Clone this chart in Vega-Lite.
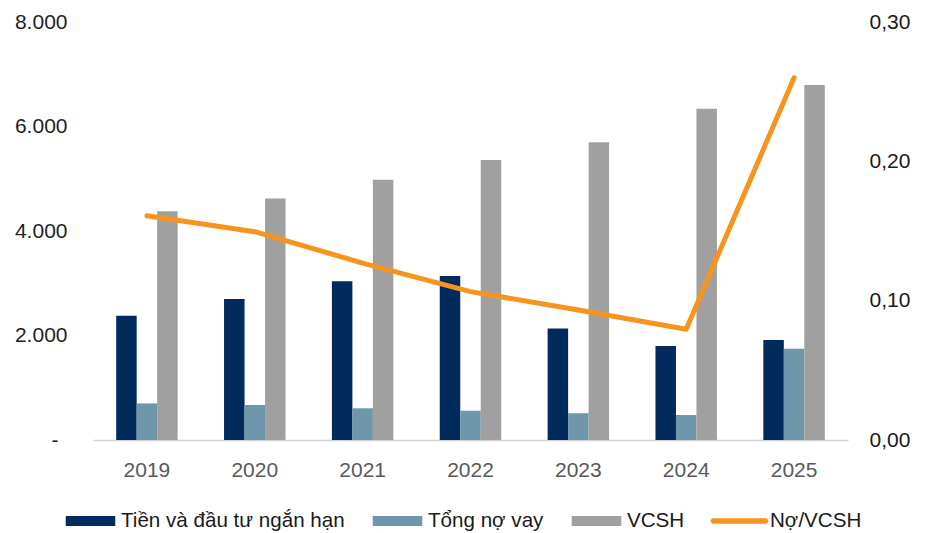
{
  "$schema": "https://vega.github.io/schema/vega-lite/v6.json",
  "width": 755,
  "height": 418,
  "autosize": {"type": "none"},
  "padding": {"left": 93, "top": 22, "right": 80, "bottom": 93},
  "background": "white",
  "config": {
    "view": {"stroke": null},
    "locale": {
      "number": {"decimal": ",", "thousands": ".", "grouping": [3], "currency": ["", ""]}
    },
    "axis": {
      "grid": false,
      "ticks": false,
      "tickSize": 0,
      "domain": false,
      "labelFont": "Liberation Sans",
      "labelFontSize": 21,
      "title": null
    },
    "legend": {
      "labelFont": "Liberation Sans",
      "labelFontSize": 20.6,
      "labelColor": "#1a1a1a"
    }
  },
  "datasets": {
    "bars": [
      {"year": "2019", "series": "Tiền và đầu tư ngắn hạn", "value": 2380},
      {"year": "2019", "series": "Tổng nợ vay", "value": 700},
      {"year": "2019", "series": "VCSH", "value": 4380},
      {"year": "2020", "series": "Tiền và đầu tư ngắn hạn", "value": 2700},
      {"year": "2020", "series": "Tổng nợ vay", "value": 670},
      {"year": "2020", "series": "VCSH", "value": 4620},
      {"year": "2021", "series": "Tiền và đầu tư ngắn hạn", "value": 3040},
      {"year": "2021", "series": "Tổng nợ vay", "value": 607},
      {"year": "2021", "series": "VCSH", "value": 4980},
      {"year": "2022", "series": "Tiền và đầu tư ngắn hạn", "value": 3140},
      {"year": "2022", "series": "Tổng nợ vay", "value": 560},
      {"year": "2022", "series": "VCSH", "value": 5360},
      {"year": "2023", "series": "Tiền và đầu tư ngắn hạn", "value": 2135},
      {"year": "2023", "series": "Tổng nợ vay", "value": 512},
      {"year": "2023", "series": "VCSH", "value": 5700},
      {"year": "2024", "series": "Tiền và đầu tư ngắn hạn", "value": 1800},
      {"year": "2024", "series": "Tổng nợ vay", "value": 478},
      {"year": "2024", "series": "VCSH", "value": 6340},
      {"year": "2025", "series": "Tiền và đầu tư ngắn hạn", "value": 1915},
      {"year": "2025", "series": "Tổng nợ vay", "value": 1748},
      {"year": "2025", "series": "VCSH", "value": 6795}
    ],
    "ratio": [
      {"year": "2019", "series": "Nợ/VCSH", "ratio": 0.161},
      {"year": "2020", "series": "Nợ/VCSH", "ratio": 0.1495},
      {"year": "2021", "series": "Nợ/VCSH", "ratio": 0.127},
      {"year": "2022", "series": "Nợ/VCSH", "ratio": 0.1065},
      {"year": "2023", "series": "Nợ/VCSH", "ratio": 0.0933},
      {"year": "2024", "series": "Nợ/VCSH", "ratio": 0.0795},
      {"year": "2025", "series": "Nợ/VCSH", "ratio": 0.26}
    ]
  },
  "encoding": {
    "x": {
      "field": "year",
      "type": "nominal",
      "scale": {"paddingInner": 0.43, "paddingOuter": 0.215},
      "axis": {
        "labelAngle": 0,
        "labelColor": "#595959",
        "labelPadding": 19,
        "domain": true,
        "domainColor": "#d4d4d4",
        "domainWidth": 1.5
      }
    }
  },
  "layer": [
    {
      "data": {"name": "bars"},
      "mark": {"type": "bar"},
      "encoding": {
        "xOffset": {
          "field": "series",
          "type": "nominal",
          "scale": {
            "domain": ["Tiền và đầu tư ngắn hạn", "Tổng nợ vay", "VCSH"],
            "paddingInner": 0,
            "paddingOuter": 0
          }
        },
        "y": {
          "field": "value",
          "type": "quantitative",
          "scale": {"domain": [0, 8000], "nice": false},
          "axis": {
            "orient": "left",
            "values": [0, 2000, 4000, 6000, 8000],
            "labelColor": "#1f1f1f",
            "labelPadding": {"condition": {"test": "datum.value === 0", "value": 35}, "value": 26},
            "labelExpr": "datum.value === 0 ? '-' : format(datum.value, ',d')"
          }
        },
        "color": {
          "field": "series",
          "type": "nominal",
          "scale": {
            "domain": ["Tiền và đầu tư ngắn hạn", "Tổng nợ vay", "VCSH", "Nợ/VCSH"],
            "range": ["#002b5c", "#6e97ac", "#a0a0a0", "#f7941d"]
          },
          "legend": {
            "title": null,
            "orient": "none",
            "direction": "horizontal",
            "columns": 4,
            "legendX": -30,
            "legendY": 471,
            "padding": 0,
            "symbolSize": 3025,
            "labelOffset": 3,
            "columnPadding": 25,
            "labelLimit": 400,
            "symbolStrokeWidth": 0,
            "encode": {
              "symbols": {
                "update": {
                  "shape": {
                    "signal": "datum.index === 3 ? 'M-0.95,-0.1H0.95A0.1,0.1 0 0 1 0.95,0.1H-0.95A0.1,0.1 0 0 1 -0.95,-0.1Z' : 'M-0.9,-0.18H0.9V0.18H-0.9Z'"
                  }
                }
              }
            }
          }
        }
      }
    },
    {
      "data": {"name": "ratio"},
      "mark": {
        "type": "line",
        "interpolate": "linear",
        "strokeWidth": 5,
        "strokeCap": "round",
        "strokeJoin": "round",
        "color": "#f7941d"
      },
      "encoding": {
        "y": {
          "field": "ratio",
          "type": "quantitative",
          "scale": {"domain": [0, 0.3], "nice": false},
          "axis": {
            "orient": "right",
            "values": [0, 0.1, 0.2, 0.3],
            "format": ".2f",
            "labelColor": "#1a1a1a",
            "labelPadding": 21
          }
        }
      }
    }
  ],
  "resolve": {"scale": {"y": "independent"}}
}
